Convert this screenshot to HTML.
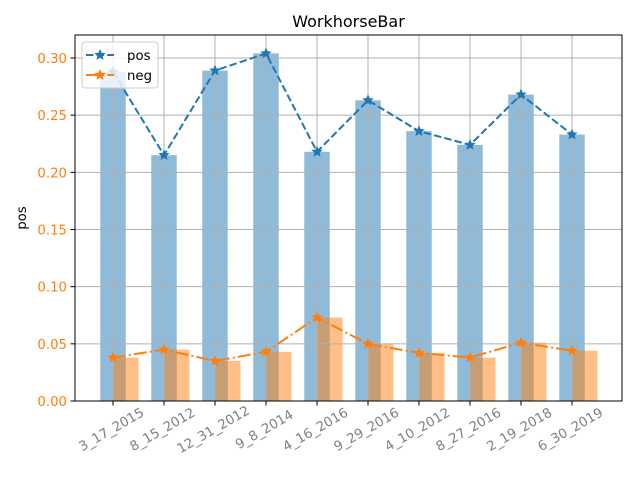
<!DOCTYPE html>
<html><head><meta charset="utf-8"><style>body{margin:0;background:#fff}svg{display:block;font-family:"DejaVu Sans","Liberation Sans",sans-serif}</style></head>
<body>
<svg id="chart" width="640" height="480"></svg>
<script>
const categories=["3_17_2015","8_15_2012","12_31_2012","9_8_2014","4_16_2016","9_29_2016","4_10_2012","8_27_2016","2_19_2018","6_30_2019"];
const posValues=[0.288,0.215,0.289,0.304,0.218,0.263,0.236,0.224,0.268,0.233];
const negValues=[0.038,0.045,0.035,0.043,0.073,0.050,0.042,0.038,0.051,0.044];
const yTicks=[0,0.05,0.10,0.15,0.20,0.25,0.30];
const yTickLabels=["0.00","0.05","0.10","0.15","0.20","0.25","0.30"];
const NS="http://www.w3.org/2000/svg",svg=document.getElementById('chart');
const L=75,R=622,T=35,B=401;
const x=i=>113+i*51, bw=25.5;
const y=v=>B-v*(B-58)/0.30;
function mk(t,a,p){const e=document.createElementNS(NS,t);for(const k in a)e.setAttribute(k,a[k]);(p||svg).appendChild(e);return e;}
function star(cx,cy,r,fill){let p=[];for(let k=0;k<10;k++){const rr=k%2?r*0.45:r,a=-Math.PI/2+k*Math.PI/5;p.push((cx+rr*Math.cos(a)).toFixed(1)+','+(cy+rr*Math.sin(a)).toFixed(1));}return mk('polygon',{points:p.join(' '),fill:fill});}
posValues.forEach((v,i)=>{const r=mk('rect',{x:x(i)-bw/2,y:y(v),width:bw,height:B-y(v),fill:'#1f77b4','fill-opacity':0.5});

});
negValues.forEach((v,i)=>{const r=mk('rect',{x:x(i),y:y(v),width:bw,height:B-y(v),fill:'#ff7f0e','fill-opacity':0.5});

});
yTicks.forEach((v,i)=>{mk('line',{x1:L,x2:R,y1:y(v),y2:y(v),stroke:'#b0b0b0','stroke-width':1});
mk('line',{x1:L-4.5,x2:L,y1:y(v),y2:y(v),stroke:'#000','stroke-width':1});
const t=mk('text',{x:L-8,y:y(v)+5,'text-anchor':'end','font-size':13.3,fill:'#ff7f0e'});t.textContent=yTickLabels[i];

});
categories.forEach((c,i)=>{mk('line',{x1:x(i),x2:x(i),y1:T,y2:B,stroke:'#b0b0b0','stroke-width':1});
mk('line',{x1:x(i),x2:x(i),y1:B,y2:B+4.5,stroke:'#000','stroke-width':1});
const cx=x(i)-2;
const t=mk('text',{x:cx,y:434,'text-anchor':'middle','font-size':13.3,fill:'#808080',transform:`rotate(-30 ${cx} 429)`});t.textContent=c;

});
function series(vals,color,dash,name){const pl=mk('polyline',{points:vals.map((v,i)=>x(i)+','+y(v)).join(' '),fill:'none',stroke:color,'stroke-width':2,'stroke-dasharray':dash});


vals.forEach((v,i)=>star(x(i),y(v),6,color));}
series(posValues,'#1f77b4','7.4,3.2','pos');
series(negValues,'#ff7f0e','12.8,3.2,2,3.2','neg');
mk('rect',{x:L,y:T,width:R-L,height:B-T,fill:'none',stroke:'#000','stroke-width':1});
const title=mk('text',{x:(L+R)/2,y:27,'text-anchor':'middle','font-size':16});title.textContent='WorkhorseBar';


const yl=mk('text',{x:26,y:218,'text-anchor':'middle','font-size':13.3,transform:'rotate(-90 26 218)'});yl.textContent='pos';


const lg=mk('g',{});


mk('rect',{x:82,y:42,width:76,height:46,rx:3,fill:'#fff','fill-opacity':0.8,stroke:'#ccc'},lg);
mk('line',{x1:86,x2:114,y1:55,y2:55,stroke:'#1f77b4','stroke-width':2,'stroke-dasharray':'7.4,3.2'},lg);
star(100,55,6,'#1f77b4');
mk('line',{x1:86,x2:114,y1:75,y2:75,stroke:'#ff7f0e','stroke-width':2,'stroke-dasharray':'12.8,3.2,2,3.2'},lg);
star(100,75,6,'#ff7f0e');
let t1=mk('text',{x:127,y:60,'font-size':13.3},lg);t1.textContent='pos';
let t2=mk('text',{x:127,y:80,'font-size':13.3},lg);t2.textContent='neg';
</script>
</body></html>
